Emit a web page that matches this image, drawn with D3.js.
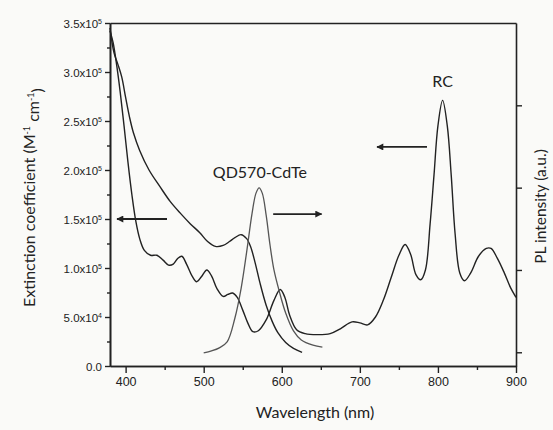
<!DOCTYPE html>
<html>
<head>
<meta charset="utf-8">
<script src="https://cdn.jsdelivr.net/npm/d3@7"></script>
<style>
  body { margin: 0; background: #fafaf8; }
  svg { display: block; font-family: Lato, "Open Sans", sans-serif; }
</style>
</head>
<body>
<div id="chart"></div>
<script>
// wavelength (nm) / extinction coefficient for the RC absorption
const rcWave = [380, 384, 388, 393, 398, 403, 408, 413, 418, 424, 432, 440, 448, 455, 461, 467, 472, 478, 485, 491,
  497, 504, 510, 517, 525, 531, 537, 543, 550, 557, 563, 570, 580, 590, 598, 604, 610, 619, 630, 645,
  662, 675, 690, 700, 710, 720, 730, 740, 750, 758, 765, 772, 778, 784, 790, 795, 800, 806, 812, 817,
  822, 828, 834, 842, 852, 862, 868, 876, 885, 893, 900];
const rcExt = [3.42, 3.30, 3.10, 2.80, 2.45, 2.08, 1.75, 1.48, 1.30, 1.18, 1.13, 1.13, 1.08, 1.03, 1.04, 1.10, 1.12, 1.04, 0.92, 0.86,
  0.91, 0.98, 0.92, 0.79, 0.71, 0.73, 0.745, 0.70, 0.57, 0.43, 0.35, 0.36, 0.47, 0.67, 0.78, 0.70, 0.52, 0.37, 0.33, 0.32,
  0.33, 0.38, 0.45, 0.44, 0.42, 0.50, 0.67, 0.90, 1.13, 1.24, 1.14, 0.93, 0.88, 0.98, 1.45, 1.95, 2.45, 2.71, 2.45, 1.95,
  1.35, 0.95, 0.87, 0.95, 1.12, 1.20, 1.20, 1.10, 0.95, 0.80, 0.70].map(v => v * 1e5);

// QD570-CdTe absorption
const qdAbsWave = [380, 385, 390, 395, 400, 405, 410, 418, 430, 444, 457, 470, 483, 495, 505, 515, 525, 533, 540, 548,
  555, 560, 566, 572, 580, 588, 595, 605, 615, 626];
const qdAbsExt = [3.45, 3.20, 3.08, 2.95, 2.74, 2.54, 2.38, 2.20, 2.00, 1.83, 1.68, 1.56, 1.45, 1.36, 1.27, 1.22, 1.23, 1.27, 1.31, 1.34,
  1.30, 1.22, 1.05, 0.85, 0.62, 0.45, 0.34, 0.24, 0.18, 0.14].map(v => v * 1e5);

// QD570-CdTe photoluminescence (arbitrary units, right axis)
const qdPlWave = [500, 510, 520, 530, 540, 548, 555, 562, 567, 571, 575, 580, 585, 590, 597, 605, 615, 625, 640, 652];
const qdPl = [-20, 50, 160, 380, 1250, 2340, 3650, 5070, 5800, 5990, 5800, 5000, 3900, 3000, 2200, 1430, 780, 450, 260, 190];

const xTicks = [400, 500, 600, 700, 800, 900];
const xMinor = [450, 550, 650, 750, 850];
const yTicks = [0, 0.5e5, 1.0e5, 1.5e5, 2.0e5, 2.5e5, 3.0e5, 3.5e5];
const yTickMant = ["0.0", "5.0x10", "1.0x10", "1.5x10", "2.0x10", "2.5x10", "3.0x10", "3.5x10"];
const yTickExp = ["", "4", "5", "5", "5", "5", "5", "5"];
const yMinor = [0.25e5, 0.75e5, 1.25e5, 1.75e5, 2.25e5, 2.75e5, 3.25e5];
const plTicks = [0, 3000, 6000, 9000];

// annotation arrows: [from wavelength, to wavelength, extinction]
const arrows = [[453, 389, 1.5e5], [589, 651, 1.55e5], [786, 722, 2.235e5]];
const labels = [{ text: "QD570-CdTe", wave: 572, ext: 1.98e5 }, { text: "RC", wave: 806, ext: 2.9e5 }];

const width = 553, height = 430;
const margin = { top: 23, right: 37, bottom: 64, left: 110 };

const x = d3.scaleLinear().domain([380, 900]).range([margin.left, width - margin.right]);
const y = d3.scaleLinear().domain([0, 3.5e5]).range([height - margin.bottom, margin.top]);
const yPl = d3.scaleLinear().domain([-500, 12000]).range([height - margin.bottom, margin.top]);

const svg = d3.select("#chart").append("svg")
  .attr("width", width)
  .attr("height", height);

const ink = "#222";

// axes
const xAxis = svg.append("g")
  .attr("transform", `translate(0,${height - margin.bottom})`)
  .call(d3.axisBottom(x).tickValues(xTicks).tickSize(7).tickSizeOuter(0).tickPadding(4).tickFormat(d3.format("d")));
svg.append("g")
  .attr("transform", `translate(0,${height - margin.bottom})`)
  .call(d3.axisBottom(x).tickValues(xMinor).tickSize(4).tickSizeOuter(0).tickFormat(""));
svg.append("g")
  .attr("transform", `translate(0,${margin.top})`)
  .call(d3.axisTop(x).tickValues([]).tickSizeOuter(0));

const yAxis = svg.append("g")
  .attr("transform", `translate(${margin.left},0)`)
  .call(d3.axisLeft(y).tickValues(yTicks).tickSize(5).tickSizeOuter(0).tickPadding(4).tickFormat(""));
svg.append("g")
  .attr("transform", `translate(${margin.left},0)`)
  .call(d3.axisLeft(y).tickValues(yMinor).tickSize(3).tickSizeOuter(0).tickFormat(""));
svg.append("g")
  .attr("transform", `translate(${width - margin.right},0)`)
  .call(d3.axisRight(yPl).tickValues(plTicks).tickSize(6).tickSizeOuter(0).tickFormat(""));

// y tick labels with superscript exponents
yAxis.selectAll(".tick").each(function (d, i) {
  const t = d3.select(this).append("text")
    .attr("x", -8)
    .attr("dy", "0.35em")
    .attr("text-anchor", "end")
    .attr("fill", ink)
    .style("font-size", "11.5px");
  t.append("tspan").text(yTickMant[i]);
  if (yTickExp[i]) {
    t.append("tspan").attr("dy", "-0.55em").style("font-size", "7px").text(yTickExp[i]);
  }
});

svg.selectAll(".domain").attr("stroke", ink).attr("stroke-width", 1.6);
svg.selectAll(".tick line").attr("stroke", ink).attr("stroke-width", 1.4);
xAxis.selectAll(".tick text").attr("fill", ink).style("font-size", "12.5px");

// axis titles
svg.append("text")
  .attr("x", (margin.left + width - margin.right) / 2 + 2)
  .attr("y", 418)
  .attr("text-anchor", "middle")
  .attr("fill", ink)
  .style("font-size", "16px")
  .text("Wavelength (nm)");

const yTitle = svg.append("text")
  .attr("transform", `translate(35,${(margin.top + height - margin.bottom) / 2 + 3}) rotate(-90)`)
  .attr("text-anchor", "middle")
  .attr("fill", ink)
  .style("font-size", "16px");
yTitle.append("tspan").text("Extinction coefficient (M");
yTitle.append("tspan").attr("dy", "-0.6em").style("font-size", "9px").text("-1");
yTitle.append("tspan").attr("dy", "0.6em").text(" cm");
yTitle.append("tspan").attr("dy", "-0.6em").style("font-size", "9px").text("-1");
yTitle.append("tspan").attr("dy", "0.6em").text(")");

svg.append("text")
  .attr("transform", `translate(546,${(margin.top + height - margin.bottom) / 2 + 12}) rotate(-90)`)
  .attr("text-anchor", "middle")
  .attr("fill", ink)
  .style("font-size", "15.5px")
  .text("PL intensity (a.u.)");

// curves
const lineExt = d3.line().x(d => x(d[0])).y(d => y(d[1])).curve(d3.curveCatmullRom.alpha(0.5));
const linePl = d3.line().x(d => x(d[0])).y(d => yPl(d[1])).curve(d3.curveCatmullRom.alpha(0.5));

svg.append("path")
  .datum(d3.zip(rcWave, rcExt))
  .attr("fill", "none")
  .attr("stroke", ink)
  .attr("stroke-width", 1.4)
  .attr("d", lineExt);

svg.append("path")
  .datum(d3.zip(qdAbsWave, qdAbsExt))
  .attr("fill", "none")
  .attr("stroke", ink)
  .attr("stroke-width", 1.4)
  .attr("d", lineExt);

svg.append("path")
  .datum(d3.zip(qdPlWave, qdPl))
  .attr("fill", "none")
  .attr("stroke", "#555")
  .attr("stroke-width", 1.3)
  .attr("d", linePl);

// arrows
svg.append("defs").append("marker")
  .attr("id", "head")
  .attr("viewBox", "0 0 10 10")
  .attr("refX", 9)
  .attr("refY", 5)
  .attr("markerWidth", 10)
  .attr("markerHeight", 7)
  .attr("markerUnits", "userSpaceOnUse")
  .attr("orient", "auto")
  .append("path")
  .attr("d", "M0,0L10,5L0,10z")
  .attr("fill", ink);

svg.selectAll(".arrow")
  .data(arrows)
  .join("line")
  .attr("class", "arrow")
  .attr("x1", d => x(d[0]))
  .attr("x2", d => x(d[1]))
  .attr("y1", d => y(d[2]))
  .attr("y2", d => y(d[2]))
  .attr("stroke", ink)
  .attr("stroke-width", 1.8)
  .attr("marker-end", "url(#head)");

svg.selectAll(".label")
  .data(labels)
  .join("text")
  .attr("class", "label")
  .attr("x", d => x(d.wave))
  .attr("y", d => y(d.ext))
  .attr("dy", "0.35em")
  .attr("text-anchor", "middle")
  .attr("fill", ink)
  .style("font-size", "16px")
  .text(d => d.text);
</script>
</body>
</html>
